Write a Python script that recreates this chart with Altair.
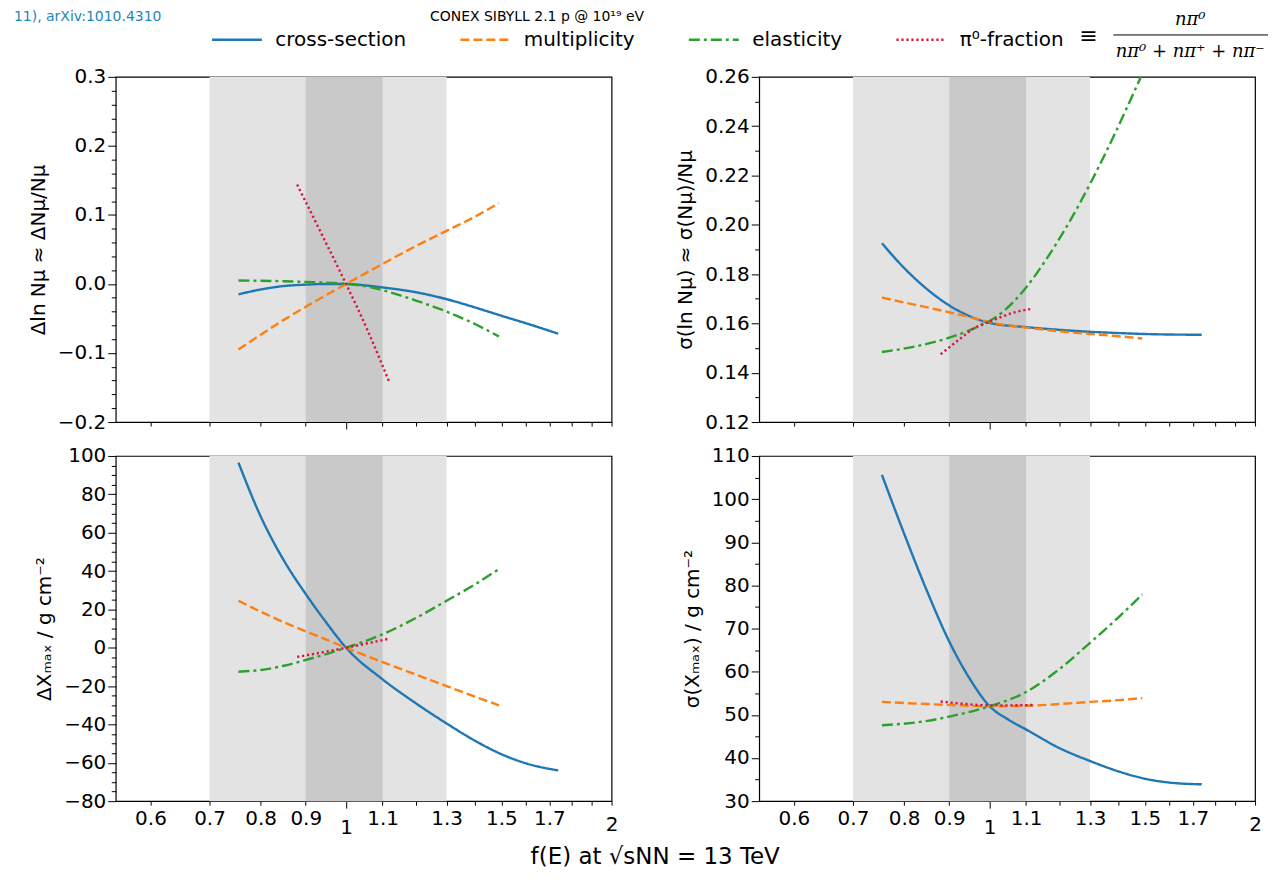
import altair as alt
import pandas as pd

SERIES = ["cross-section", "multiplicity", "elasticity", "π⁰-fraction"]
COLORS = ["#1f77b4", "#ff7f0e", "#2ca02c", "#dc143c"]
DASHES = [[1, 0], [9, 4], [11, 4, 3, 4], [2.2, 2.8]]

BAND_LO = [0.7, 0.9]
BAND_HI = [1.3, 1.1]
BAND_FILL = ["#e3e3e3", "#c9c9c9"]

X_TICKS = [0.6, 0.7, 0.8, 0.9, 1.0, 1.1, 1.2, 1.3, 1.4, 1.5, 1.6, 1.7, 1.8, 1.9, 2.0]
X_LABELED = [0.6, 0.7, 0.8, 0.9, 1, 1.1, 1.3, 1.5, 1.7, 2]

# ---- top-left: Delta ln N_mu
TL_CS_F = [0.755, 0.8, 0.85, 0.9, 0.95, 1.0, 1.05, 1.1, 1.2, 1.3, 1.4, 1.5, 1.6, 1.74]
TL_CS_V = [-0.015, -0.008, -0.003, -0.001, 0.0, 0.0, -0.002, -0.005, -0.012, -0.022, -0.034, -0.046, -0.057, -0.072]
TL_MU_F = [0.755, 0.85, 0.9, 1.0, 1.1, 1.2, 1.3, 1.4, 1.49]
TL_MU_V = [-0.095, -0.052, -0.033, 0.0, 0.029, 0.055, 0.077, 0.0975, 0.117]
TL_EL_F = [0.755, 0.85, 0.9, 1.0, 1.05, 1.1, 1.2, 1.3, 1.4, 1.49]
TL_EL_V = [0.005, 0.004, 0.003, 0.0, -0.003, -0.009, -0.024, -0.040, -0.058, -0.076]
TL_PI_F = [0.88, 0.94, 1.0, 1.06, 1.12]
TL_PI_V = [0.144, 0.07, 0.0, -0.07, -0.143]

# ---- top-right: sigma(ln N_mu)
TR_CS_F = [0.755, 0.8, 0.85, 0.9, 0.95, 1.0, 1.1, 1.2, 1.3, 1.4, 1.5, 1.6, 1.74]
TR_CS_V = [0.1925, 0.1825, 0.1738, 0.1673, 0.1629, 0.1602, 0.1585, 0.1574, 0.1566, 0.1561, 0.1557, 0.1555, 0.1554]
TR_MU_F = [0.755, 0.8, 0.85, 0.9, 0.95, 1.0, 1.1, 1.2, 1.3, 1.4, 1.49]
TR_MU_V = [0.1705, 0.1685, 0.1665, 0.1645, 0.1625, 0.1605, 0.1583, 0.1568, 0.1557, 0.1548, 0.1539]
TR_EL_F = [0.755, 0.83, 0.9, 0.96, 1.0, 1.04, 1.1, 1.16, 1.23, 1.3, 1.38, 1.49]
TR_EL_V = [0.1484, 0.1509, 0.1542, 0.158, 0.161, 0.1653, 0.1746, 0.1861, 0.2008, 0.2166, 0.2353, 0.2613]
TR_PI_F = [0.88, 0.93, 0.96, 1.0, 1.07, 1.12]
TR_PI_V = [0.1475, 0.1543, 0.158, 0.1607, 0.1646, 0.166]

# ---- bottom-left: Delta Xmax
BL_CS_F = [0.755, 0.8, 0.85, 0.9, 0.95, 1.0, 1.1, 1.2, 1.3, 1.4, 1.5, 1.6, 1.74]
BL_CS_V = [96.5, 68.5, 45.5, 28, 13, 0, -16.5, -29, -39.5, -48.5, -55.5, -60.3, -64]
BL_MU_F = [0.755, 0.8, 0.85, 0.9, 0.95, 1.0, 1.1, 1.2, 1.3, 1.4, 1.49]
BL_MU_V = [24.5, 18.8, 13.3, 8.5, 4.2, 0, -7.5, -14, -20, -25.5, -30]
BL_EL_F = [0.755, 0.8, 0.85, 0.9, 0.95, 1.0, 1.1, 1.2, 1.3, 1.4, 1.49]
BL_EL_V = [-12.5, -11.6, -9.4, -6.4, -3.3, 0, 7, 15.5, 24.5, 33, 41]
BL_PI_F = [0.88, 0.94, 1.0, 1.06, 1.12]
BL_PI_V = [-4.8, -2.4, 0.0, 2.4, 4.8]

# ---- bottom-right: sigma(Xmax)
BR_CS_F = [0.755, 0.8, 0.85, 0.9, 0.95, 1.0, 1.05, 1.1, 1.2, 1.3, 1.4, 1.5, 1.6, 1.74]
BR_CS_V = [105.6, 92, 78.5, 67, 58.3, 52, 48.9, 46.6, 42.3, 39.3, 36.9, 35.2, 34.3, 33.9]
BR_MU_F = [0.755, 0.85, 0.9, 1.0, 1.1, 1.2, 1.3, 1.4, 1.49]
BR_MU_V = [53.0, 52.5, 52.3, 52.0, 52.1, 52.5, 53.0, 53.4, 53.9]
BR_EL_F = [0.755, 0.8, 0.85, 0.9, 0.95, 1.0, 1.1, 1.2, 1.3, 1.4, 1.49]
BR_EL_V = [47.6, 47.95, 48.6, 49.6, 50.7, 52.0, 55.3, 60.6, 66.7, 72.6, 77.9]
BR_PI_F = [0.88, 0.94, 1.0, 1.06, 1.12]
BR_PI_V = [53.1, 52.5, 52.2, 52.2, 52.3]

FONT = "DejaVu Sans"
W, H = 497, 346


def make_df(groups):
    rows = []
    for name, fs, vs in groups:
        for f, v in zip(fs, vs):
            rows.append({"series": name, "f": f, "v": v})
    return pd.DataFrame(rows)


bands_df = pd.DataFrame({"lo": BAND_LO, "hi": BAND_HI, "fill": BAND_FILL})

xscale = alt.Scale(type="log", domain=[0.548, 2.0], nice=False)

legend = alt.Legend(
    title=None, orient="none", direction="horizontal", legendX=95, legendY=-64,
    symbolType="stroke", symbolSize=2500, symbolStrokeWidth=2.4,
    labelFontSize=20, labelFont=FONT, labelOffset=12, columnPadding=48,
    labelLimit=400,
)


def xaxis(labels):
    return alt.Axis(
        values=X_TICKS, title=None, labels=labels, grid=False,
        labelExpr="indexof([" + ",".join(str(v) for v in X_LABELED) + "], datum.value) >= 0 ? format(datum.value, '~g') : ''",
        tickSize={"condition": {"test": "datum.value == 1", "value": 7}, "value": 4},
        labelPadding={"condition": {"test": "datum.value == 1 || datum.value == 2", "value": 9}, "value": 3},
        labelFlush=False, labelOverlap=False,
    )


def yaxis(lo, hi, major, minor, fmt, title):
    n = int(round((hi - lo) / minor))
    vals = [round(lo + i * minor, 6) + 0.0 for i in range(n + 1)]
    test = f"abs(datum.value / {major} - round(datum.value / {major})) < 1e-6"
    return alt.Axis(
        values=vals, title=title, grid=False,
        labelExpr=f"{test} ? format(datum.value, '{fmt}') : ''",
        tickSize={"condition": {"test": test, "value": 8}, "value": 4.5},
        labelOverlap=False, labelFlush=False, titlePadding=9,
    )


def panel(groups, lo, hi, major, minor, fmt, title, xlabels, extra=None):
    df = make_df(groups)
    xa = xaxis(xlabels)
    ya = yaxis(lo, hi, major, minor, fmt, title)
    yscale = alt.Scale(domain=[lo, hi], nice=False, zero=False)
    bands = alt.Chart(bands_df).mark_rect().encode(
        x=alt.X("lo:Q", scale=xscale, axis=xa),
        x2="hi:Q",
        fill=alt.Fill("fill:N", scale=None, legend=None),
    )
    lines = alt.Chart(df).mark_line(strokeWidth=2.4, clip=True, interpolate="monotone").encode(
        x=alt.X("f:Q", scale=xscale, axis=xa),
        y=alt.Y("v:Q", scale=yscale, axis=ya),
        color=alt.Color("series:N", scale=alt.Scale(domain=SERIES, range=COLORS), legend=legend),
        strokeDash=alt.StrokeDash("series:N", scale=alt.Scale(domain=SERIES, range=DASHES), legend=legend),
    )
    layers = [bands, lines] + (extra or [])
    return alt.layer(*layers).properties(width=W, height=H)


def label(text, x, y, size=16, color="black", font=FONT, align="left", style="normal", baseline="top"):
    return alt.Chart(pd.DataFrame({"t": [text]})).mark_text(
        align=align, baseline=baseline, fontSize=size, font=font, color=color, fontStyle=style
    ).encode(text="t:N", x=alt.value(x), y=alt.value(y))


header = [
    label("11), arXiv:1010.4310", -102, -67, size=14, color="#1a87b8"),
    label("CONEX SIBYLL 2.1 p @ 10¹⁹ eV", 315, -67, size=14),
]

frac = [
    label("≡", 330, -41, size=22, font="DejaVu Serif", align="center", baseline="middle"),
    label("nπ⁰", 432, -57, size=18, font="DejaVu Serif", align="center", baseline="middle", style="italic"),
    alt.Chart(pd.DataFrame({"a": [0]})).mark_rule(color="black", strokeWidth=1).encode(
        x=alt.value(355), x2=alt.value(510), y=alt.value(-42)),
    label("nπ⁰ + nπ⁺ + nπ⁻", 432, -25, size=18, font="DejaVu Serif", align="center", baseline="middle", style="italic"),
]

tl = panel([("cross-section", TL_CS_F, TL_CS_V), ("multiplicity", TL_MU_F, TL_MU_V),
            ("elasticity", TL_EL_F, TL_EL_V), ("π⁰-fraction", TL_PI_F, TL_PI_V)],
           -0.2, 0.3, 0.1, 0.02, ".1f", "Δln Nμ ≈ ΔNμ/Nμ", False, header)
tr = panel([("cross-section", TR_CS_F, TR_CS_V), ("multiplicity", TR_MU_F, TR_MU_V),
            ("elasticity", TR_EL_F, TR_EL_V), ("π⁰-fraction", TR_PI_F, TR_PI_V)],
           0.12, 0.26, 0.02, 0.01, ".2f", "σ(ln Nμ) ≈ σ(Nμ)/Nμ", False, frac)
bl = panel([("cross-section", BL_CS_F, BL_CS_V), ("multiplicity", BL_MU_F, BL_MU_V),
            ("elasticity", BL_EL_F, BL_EL_V), ("π⁰-fraction", BL_PI_F, BL_PI_V)],
           -80, 100, 20, 5, "d", "ΔXₘₐₓ / g cm⁻²", True)
br = panel([("cross-section", BR_CS_F, BR_CS_V), ("multiplicity", BR_MU_F, BR_MU_V),
            ("elasticity", BR_EL_F, BR_EL_V), ("π⁰-fraction", BR_PI_F, BR_PI_V)],
           30, 110, 10, 5, "d", "σ(Xₘₐₓ) / g cm⁻²", True)

chart = alt.concat(tl, tr, bl, br, columns=2, spacing={"row": 34, "column": 148}, bounds="flush").properties(
    title=alt.TitleParams("f(E) at √sNN = 13 TeV", orient="bottom", anchor="middle",
                          fontSize=23, fontWeight="normal", font=FONT, offset=8, dx=14),
    padding={"left": 5, "top": 0, "right": 5, "bottom": 2},
).configure(background="white").configure_view(stroke="black", strokeWidth=1.2).configure_axis(
    domain=False, tickColor="black", tickWidth=1, labelColor="black", titleColor="black",
    labelFont=FONT, titleFont=FONT, labelFontSize=20, titleFontSize=20, titleFontWeight="normal",
)

chart.save("out.html", embed_options={"renderer": "svg", "actions": False})
